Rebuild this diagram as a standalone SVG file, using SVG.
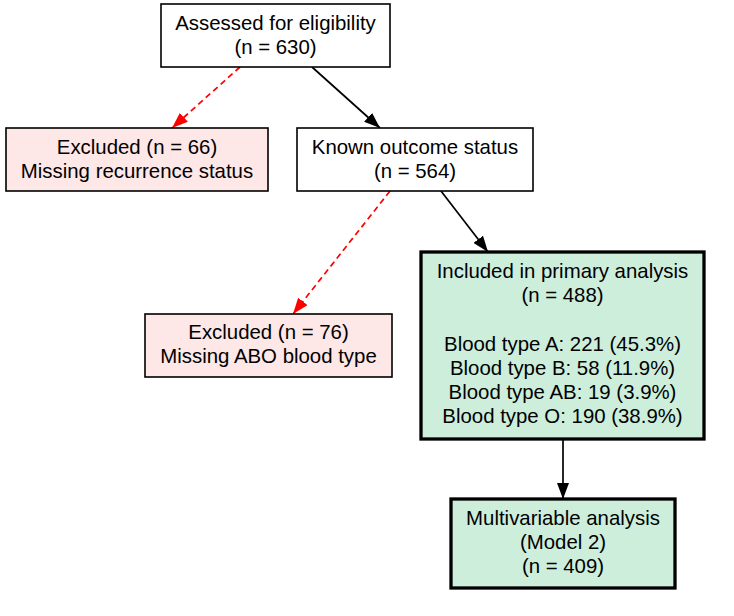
<svg xmlns="http://www.w3.org/2000/svg" width="734" height="616" viewBox="0 0 734 616">
<defs>
<style>
text{font-family:"Liberation Sans",Arial,sans-serif;font-size:20.4px;fill:#000;text-anchor:middle}
.w{fill:#fff;stroke:#000;stroke-width:1.6}
.p{fill:#fde7e7;stroke:#000;stroke-width:1.6}
.g{fill:#ceeedc;stroke:#000;stroke-width:3.3}
.k{stroke:#000;stroke-width:1.7;fill:none}
.r{stroke:#ff0000;stroke-width:1.7;fill:none;stroke-dasharray:6,4}
</style>
<marker id="ak" viewBox="0 0 16 12" refX="16" refY="6" markerWidth="16" markerHeight="12" markerUnits="userSpaceOnUse" orient="auto"><path d="M0,0 L16,6 L0,12 z" fill="#000"/></marker>
<marker id="ar" viewBox="0 0 16 12" refX="16" refY="6" markerWidth="16" markerHeight="12" markerUnits="userSpaceOnUse" orient="auto"><path d="M0,0 L16,6 L0,12 z" fill="#ff0000"/></marker>
</defs>
<rect width="734" height="616" fill="#fff"/>
<g id="connectors">
<line class="k" x1="312" y1="67" x2="380" y2="128" marker-end="url(#ak)"/>
<line class="r" x1="240" y1="67" x2="172" y2="128" marker-end="url(#ar)"/>
<line class="k" x1="441" y1="191" x2="488" y2="252" marker-end="url(#ak)"/>
<line class="r" x1="390" y1="191" x2="293" y2="314" marker-end="url(#ar)"/>
<line class="k" x1="563" y1="439" x2="563" y2="499" marker-end="url(#ak)"/>
</g>
<g id="assessed">
<rect class="w" x="161" y="4" width="229" height="63"/>
<text x="275.5" y="30">Assessed for eligibility</text>
<text x="275.5" y="54">(n = 630)</text>
</g>
<g id="excluded1">
<rect class="p" x="6" y="128" width="262" height="63"/>
<text x="137" y="154">Excluded (n = 66)</text>
<text x="137" y="178">Missing recurrence status</text>
</g>
<g id="known">
<rect class="w" x="297" y="128" width="236" height="63"/>
<text x="415" y="154">Known outcome status</text>
<text x="415" y="178">(n = 564)</text>
</g>
<g id="excluded2">
<rect class="p" x="145" y="314" width="247" height="63"/>
<text x="268.5" y="339">Excluded (n = 76)</text>
<text x="268.5" y="363">Missing ABO blood type</text>
</g>
<g id="included">
<rect class="g" x="421" y="252" width="283" height="187"/>
<text x="562.5" y="278">Included in primary analysis</text>
<text x="562.5" y="302">(n = 488)</text>
<text x="562.5" y="351">Blood type A: 221 (45.3%)</text>
<text x="562.5" y="375">Blood type B: 58 (11.9%)</text>
<text x="562.5" y="399">Blood type AB: 19 (3.9%)</text>
<text x="562.5" y="423">Blood type O: 190 (38.9%)</text>
</g>
<g id="multivariable">
<rect class="g" x="451" y="499" width="224" height="89"/>
<text x="563" y="525">Multivariable analysis</text>
<text x="563" y="549">(Model 2)</text>
<text x="563" y="573">(n = 409)</text>
</g>
</svg>
